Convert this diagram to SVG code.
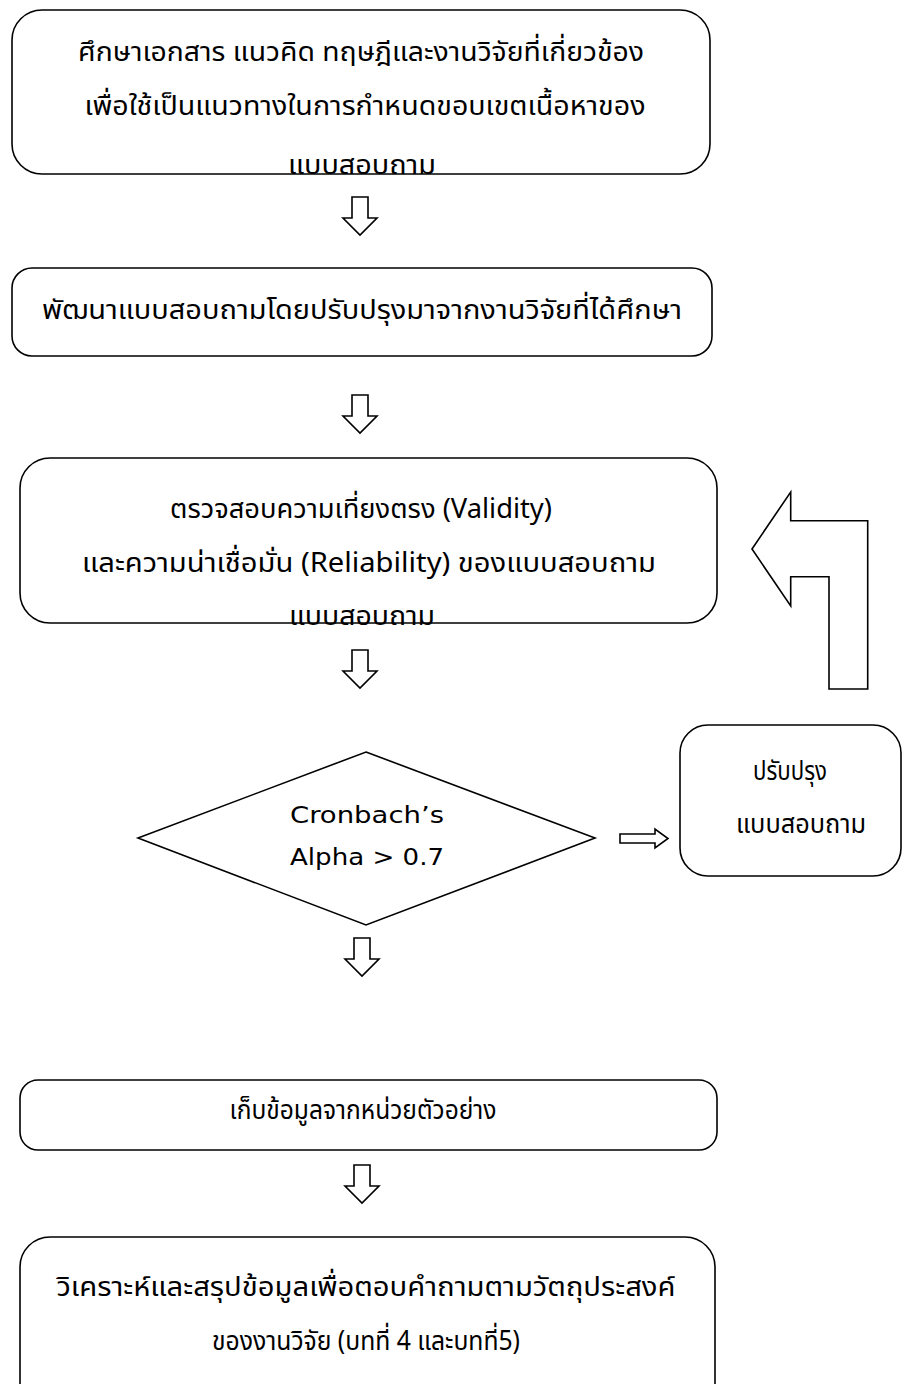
<svg xmlns="http://www.w3.org/2000/svg" xmlns:xlink="http://www.w3.org/1999/xlink" width="902" height="1384" viewBox="0 0 902 1384">
<style>
.box{fill:#fff;stroke:#000;stroke-width:1.6}
.arr{fill:#fff;stroke:#000;stroke-width:1.6;stroke-linejoin:miter}
.th{font-family:"Noto Sans Thai","Noto Sans","Liberation Sans",sans-serif;font-size:27px;fill:#000;text-anchor:middle}
.lat{font-family:"DejaVu Sans Condensed","Liberation Sans",sans-serif;font-size:23px;fill:#000;text-anchor:middle}
</style>
<defs>
<path id="down" d="M-8,0 H8 V21 H17 L0,38 L-17,21 H-8 Z"/>
</defs>
<rect width="902" height="1384" fill="#fff"/>
<g id="connectors">
<use xlink:href="#down" class="arr" transform="translate(360,197)"/>
<use xlink:href="#down" class="arr" transform="translate(360,395)"/>
<use xlink:href="#down" class="arr" transform="translate(360,650)"/>
<use xlink:href="#down" class="arr" transform="translate(362,938)"/>
<use xlink:href="#down" class="arr" transform="translate(362,1165)"/>
<path class="arr" d="M620,834 H655 V829 L668,838.5 L655,848 V843 H620 Z"/>
<path id="feedback" class="arr" d="M752,549 L790.7,492 V520.7 H867.7 V689 H829 V576.7 H790.7 V606 Z"/>
</g>
<g id="n1">
<rect class="box" x="12" y="10" width="698" height="164" rx="30"/>
<text class="th" x="361" y="61" textLength="566" lengthAdjust="spacingAndGlyphs">ศึกษาเอกสาร แนวคิด ทฤษฎีและงานวิจัยที่เกี่ยวข้อง</text>
<text class="th" x="365" y="115" textLength="561" lengthAdjust="spacingAndGlyphs">เพื่อใช้เป็นแนวทางในการกำหนดขอบเขตเนื้อหาของ</text>
<text class="th" x="362" y="174" textLength="148" lengthAdjust="spacingAndGlyphs">แบบสอบถาม</text>
</g>
<g id="n2">
<rect class="box" x="12" y="268" width="700" height="88" rx="20"/>
<text class="th" x="362" y="319" textLength="640" lengthAdjust="spacingAndGlyphs">พัฒนาแบบสอบถามโดยปรับปรุงมาจากงานวิจัยที่ได้ศึกษา</text>
</g>
<g id="n3">
<rect class="box" x="20" y="458" width="697" height="165" rx="30"/>
<text class="th" x="361" y="518" textLength="382" lengthAdjust="spacingAndGlyphs">ตรวจสอบความเที่ยงตรง (Validity)</text>
<text class="th" x="369" y="572" textLength="574" lengthAdjust="spacingAndGlyphs">และความน่าเชื่อมั่น (Reliability) ของแบบสอบถาม</text>
<text class="th" x="362" y="625" textLength="146" lengthAdjust="spacingAndGlyphs">แบบสอบถาม</text>
</g>
<g id="n4">
<polygon class="box" points="366,752 595,838 366,925 138,838"/>
<text class="lat" x="367" y="823" textLength="154" lengthAdjust="spacingAndGlyphs">Cronbach’s</text>
<text class="lat" x="367" y="865" textLength="154" lengthAdjust="spacingAndGlyphs">Alpha &gt; 0.7</text>
</g>
<g id="n5">
<rect class="box" x="680" y="725" width="221" height="151" rx="28"/>
<text class="th" x="790" y="780" textLength="74" lengthAdjust="spacingAndGlyphs">ปรับปรุง</text>
<text class="th" x="801" y="833" textLength="130" lengthAdjust="spacingAndGlyphs">แบบสอบถาม</text>
</g>
<g id="n6">
<rect class="box" x="20" y="1080" width="697" height="70" rx="18"/>
<text class="th" x="363" y="1119" textLength="267" lengthAdjust="spacingAndGlyphs">เก็บข้อมูลจากหน่วยตัวอย่าง</text>
</g>
<g id="n7">
<rect class="box" x="20" y="1237" width="695" height="180" rx="30"/>
<text class="th" x="366" y="1296" textLength="619" lengthAdjust="spacingAndGlyphs">วิเคราะห์และสรุปข้อมูลเพื่อตอบคำถามตามวัตถุประสงค์</text>
<text class="th" x="366" y="1350" textLength="308" lengthAdjust="spacingAndGlyphs">ของงานวิจัย (บทที่ 4 และบทที่5)</text>
</g>
</svg>
